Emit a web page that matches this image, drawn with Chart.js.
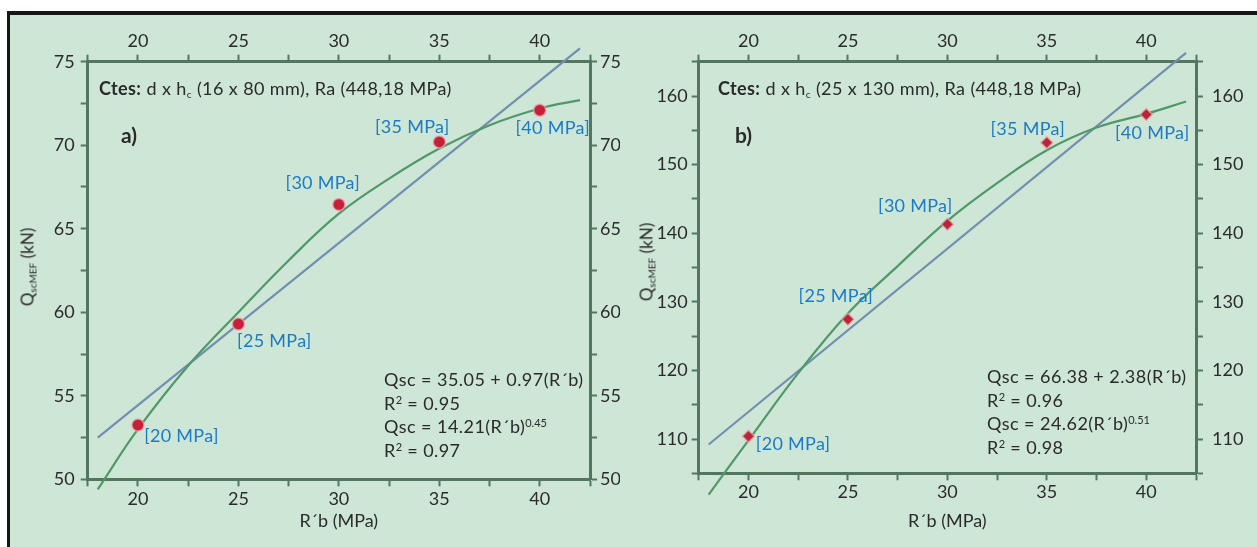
<!DOCTYPE html>
<html>
<head>
<meta charset="utf-8">
<script src="https://cdn.jsdelivr.net/npm/chart.js@4.4.1/dist/chart.umd.min.js"></script>
<style>
  body { margin: 0; width: 1257px; height: 547px; background: #fff; overflow: hidden; position: relative; font-family: Lato, sans-serif; color: #2a2a2a; }
  #frame { position: absolute; left: 7px; top: 11px; right: 0; bottom: 0; background: #161616; }
  #panel { position: absolute; left: 9.5px; top: 15px; right: 0; bottom: 0; background: #cde6d5; }
  canvas { position: absolute; }
  #chartA { left: 10px; top: 15px; }
  #chartB { left: 630px; top: 15px; }
  .txt { position: absolute; white-space: nowrap; font-size: 18px; letter-spacing: 0.4px; line-height: 1; }
  .txt sub { font-size: 10px; vertical-align: -3px; }
  .tag { font-weight: 700; font-size: 21px; letter-spacing: 0; }
  .eq { position: absolute; white-space: nowrap; font-size: 18px; letter-spacing: 0.45px; line-height: 23.7px; }
  .eq sup { font-size: 11px; vertical-align: 6px; line-height: 0; letter-spacing: 0; }
  .ytitle { position: absolute; white-space: nowrap; font-size: 17px; line-height: 1; transform: translate(-50%, -50%) rotate(-90deg); }
  .ytitle sub { font-size: 10px; vertical-align: -3px; }
</style>
</head>
<body>
<div id="frame"></div>
<div id="panel"></div>
<canvas id="chartA" width="610" height="532"></canvas>
<canvas id="chartB" width="627" height="532"></canvas>

<div class="txt" style="left:99px; top:79px;"><b>Ctes:</b> d x h<sub>c</sub> (16 x 80 mm), Ra (448,18 MPa)</div>
<div class="txt tag" style="left:121px; top:124px;">a)</div>
<div class="eq" style="left:384px; top:368px;">
  Qsc = 35.05 + 0.97(R´b)<br>R<sup>2</sup> = 0.95<br>Qsc = 14.21(R´b)<sup>0.45</sup><br>R<sup>2</sup> = 0.97
</div>
<div class="ytitle" style="left:28px; top:267px;">Q<sub>scMEF</sub> (kN)</div>

<div class="txt" style="left:718px; top:79px;"><b>Ctes:</b> d x h<sub>c</sub> (25 x 130 mm), Ra (448,18 MPa)</div>
<div class="txt tag" style="left:735px; top:124px;">b)</div>
<div class="eq" style="left:987px; top:365px;">
  Qsc = 66.38 + 2.38(R´b)<br>R<sup>2</sup> = 0.96<br>Qsc = 24.62(R´b)<sup>0.51</sup><br>R<sup>2</sup> = 0.98
</div>
<div class="ytitle" style="left:647px; top:262px;">Q<sub>scMEF</sub> (kN)</div>

<script>
// data
const rb = [20, 25, 30, 35, 40];
const qA = [53.25, 59.3, 66.45, 70.2, 72.1];
const qB = [110.4, 127.45, 141.3, 153.2, 157.3];

// linear fit lines (end points)
const linX = [18, 42];
const linA = [52.5, 75.8];
const linB = [109.2, 166.3];

// power fit curves, traced
const curveX = [18, 20, 22.5, 25, 27.5, 30, 32.5, 35, 37.5, 40, 42];
const curveA = [49.4, 53.0, 56.8, 60.0, 63.1, 65.9, 68.0, 69.8, 71.2, 72.2, 72.7];
const curveB = [101.9, 109.8, 119.6, 128.3, 135.2, 141.8, 147.3, 152.1, 155.4, 157.4, 159.2];

// axis ranges
const xRange = [17.5, 42.5];
const yRangeA = [50, 75];
const yRangeB = [105, 165];

const axisColor = '#53765e';
const tickColor = '#2b2b2b';
const labelColor = '#1b7bc7';
const font = 'Lato';

const pts = (xs, ys) => xs.map((x, i) => ({ x: x, y: ys[i] }));

const pointLabels = {
  id: 'pointLabels',
  afterDatasetsDraw(chart, args, opts) {
    const meta = chart.getDatasetMeta(0);
    const ctx = chart.ctx;
    ctx.save();
    ctx.font = '18px ' + font;
    ctx.letterSpacing = '0.3px';
    ctx.fillStyle = labelColor;
    ctx.textAlign = 'center';
    ctx.textBaseline = 'middle';
    meta.data.forEach((p, i) => {
      const off = opts.offsets[i];
      ctx.fillText('[' + rb[i] + ' MPa]', p.x + off[0], p.y + off[1]);
    });
    ctx.restore();
  }
};

function makeChart(id, q, lin, curve, yRange, yStep, yLabelStep, marker, sz, offsets) {
  const grid = { drawOnChartArea: false, color: axisColor, tickLength: 7, tickWidth: 2 };
  const border = { color: axisColor, width: 3 };
  const tickFont = { family: font, size: 18 };
  const xLab = v => (v % 5 === 0 ? v : '');
  const yLab = v => (v % yLabelStep === 0 ? v : '');
  const xAxis = (pos, h, pad) => ({
    type: 'linear', position: pos, min: xRange[0], max: xRange[1],
    grid: grid, border: border,
    ticks: { stepSize: 2.5, callback: xLab, color: tickColor, font: tickFont, padding: pad, autoSkip: false, maxRotation: 0 },
    afterFit: s => { s.height = h; }
  });
  const yAxis = (pos, w, pad) => ({
    type: 'linear', position: pos, min: yRange[0], max: yRange[1],
    grid: grid, border: border,
    ticks: { stepSize: yStep, callback: yLab, color: tickColor, font: tickFont, padding: pad, autoSkip: false },
    afterFit: s => { s.width = w; }
  });

  const x = xAxis('bottom', sz.bottom, sz.padBottom);
  x.title = { display: true, text: 'R´b (MPa)', color: tickColor, font: { family: font, size: 18 }, padding: { top: 0, bottom: 15 } };

  return new Chart(document.getElementById(id), {
    type: 'scatter',
    data: {
      datasets: [
        {
          data: pts(rb, q), order: 0,
          pointStyle: marker.style, pointRadius: marker.r, pointHoverRadius: marker.r,
          backgroundColor: marker.color, borderColor: 'rgba(236,160,165,0.75)', borderWidth: 1.5
        },
        {
          data: pts(linX, lin), order: 2, showLine: true, clip: false,
          borderColor: 'rgb(114,142,176)', borderWidth: 2.2, pointRadius: 0
        },
        {
          data: pts(curveX, curve), order: 1, showLine: true, clip: false,
          tension: 0.4,
          borderColor: 'rgb(80,152,106)', borderWidth: 2.2, pointRadius: 0
        }
      ]
    },
    options: {
      responsive: false,
      animation: false,
      devicePixelRatio: 1,
      layout: { padding: 0 },
      plugins: {
        legend: { display: false },
        tooltip: { enabled: false },
        pointLabels: { offsets: offsets }
      },
      scales: {
        x: x,
        x2: xAxis('top', sz.top, 3),
        y: yAxis('left', sz.left, sz.padLeft),
        y2: yAxis('right', sz.right, sz.padRight)
      }
    },
    plugins: [pointLabels]
  });
}

makeChart('chartA', qA, linA, curveA, yRangeA, 2.5, 5,
  { style: 'circle', r: 6, color: '#c61f38' },
  { left: 77.7, right: 30, top: 46.7, bottom: 67.7, padLeft: 6, padRight: 3, padBottom: 2 },
  [[43.5, 11], [36, 17], [-16, -21], [-27, -15], [13, 18.5]]);

makeChart('chartB', qB, linB, curveB, yRangeB, 5, 10,
  { style: 'rectRot', r: 6, color: '#b5263a' },
  { left: 68.7, right: 61, top: 46.7, bottom: 73.7, padLeft: 4, padRight: 9, padBottom: 1 },
  [[44.7, 8], [-12, -23], [-32, -18], [-19, -13], [6, 19]]);
</script>
</body>
</html>
